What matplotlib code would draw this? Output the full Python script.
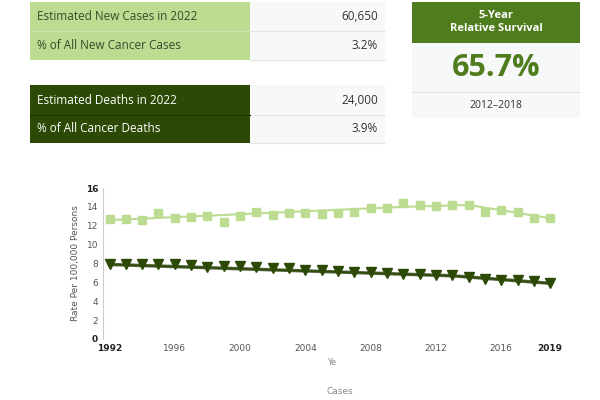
import matplotlib
matplotlib.use("Agg")
import matplotlib.pyplot as plt
from matplotlib.patches import Rectangle

years = list(range(1992, 2020))
new_cases = [12.7,12.7,12.6,13.3,12.8,12.9,13.0,12.4,13.0,13.5,13.1,13.3,13.4,13.2,13.4,13.5,13.9,13.9,14.4,14.2,14.1,14.2,14.2,13.5,13.7,13.5,12.8,12.8]
new_trend_x = [1992, 2010, 2014, 2019]
new_trend_y = [12.6, 14.0, 14.2, 12.8]
deaths = [8.0,8.0,7.9,8.0,7.9,7.8,7.6,7.7,7.7,7.6,7.5,7.5,7.3,7.3,7.2,7.1,7.1,7.0,6.9,6.9,6.8,6.8,6.6,6.4,6.3,6.2,6.1,5.9]
death_trend_x = [1992, 2013, 2019]
death_trend_y = [7.9, 6.7, 5.9]
yticks = [0,2,4,6,8,10,12,14,16]
xticks = [1992,1996,2000,2004,2008,2012,2016,2019]

light = "#bcdc92"; dark = "#2c4a06"; mid = "#4f7d1e"; grey = "#f7f8f8"
W, H = 600, 400
fig = plt.figure(figsize=(6, 4), dpi=100)
ov = fig.add_axes([0, 0, 1, 1]); ov.set_xlim(0, W); ov.set_ylim(H, 0); ov.axis("off")

def row(y0, y1, lab, val, col, tcol):
    ov.add_patch(Rectangle((30, y0), 220, y1-y0, color=col, lw=0))
    ov.add_patch(Rectangle((250, y0), 135, y1-y0, color=grey, lw=0))
    ov.plot([250, 385], [y1, y1], color="#e6e6e6", lw=0.8)
    ym = (y0+y1)/2
    ov.text(37, ym, lab, va="center", fontsize=8.5, color=tcol, family="Open Sans")
    ov.text(378, ym, val, va="center", ha="right", fontsize=8.5, color="#333", family="Open Sans")

row(2, 31, "Estimated New Cases in 2022", "60,650", light, "#3a4a2a")
row(31, 60, "% of All New Cancer Cases", "3.2%", light, "#3a4a2a")
row(85, 115, "Estimated Deaths in 2022", "24,000", dark, "white")
row(115, 143, "% of All Cancer Deaths", "3.9%", dark, "white")
ov.plot([30, 250], [115, 115], color="#1e3504", lw=0.8)
ov.plot([30, 250], [31, 31], color="#cfe6b0", lw=0.8)

ov.add_patch(Rectangle((412, 2), 168, 116, color=grey, lw=0))
ov.add_patch(Rectangle((412, 2), 168, 41, color=mid, lw=0))
ov.text(496, 22, "5-Year\nRelative Survival", ha="center", va="center", color="white", fontsize=8, fontweight="bold", family="Open Sans", linespacing=1.3)
ov.text(496, 68, "65.7%", ha="center", va="center", color=mid, fontsize=22, fontweight="bold", family="Open Sans")
ov.plot([412, 580], [92, 92], color="#e4e4e4", lw=0.8)
ov.text(496, 105, "2012\u20132018", ha="center", va="center", color="#333", fontsize=7.5, family="Open Sans")
ov.text(340, 392, "Cases", ha="center", va="center", color="#888", fontsize=6.5)

ax = fig.add_axes([103/W, 1-339/H, (560-103)/W, (339-188)/H])
ax.set_xlim(1991.6, 2019.6); ax.set_ylim(0, 16)
ax.plot(new_trend_x, new_trend_y, color=light, lw=1.5)
ax.plot(years, new_cases, "s", color=light, ms=5.5)
ax.plot(death_trend_x, death_trend_y, color="#5b6b4a", lw=2.5)
ax.plot(death_trend_x, death_trend_y, color=dark, lw=1.2)
ax.plot(years, deaths, "v", color=dark, ms=7)
ax.set_yticks(yticks); ax.set_xticks(xticks)
ax.tick_params(length=0, labelsize=6.5, colors="#555")
for lbl in ax.get_xticklabels():
    if lbl.get_text() in ("1992", "2019"):
        lbl.set_fontweight("bold"); lbl.set_color("#222")
for lbl in ax.get_yticklabels():
    if lbl.get_text() in ("0", "16"):
        lbl.set_fontweight("bold"); lbl.set_color("#222")
for s in ["top", "right", "bottom"]:
    ax.spines[s].set_visible(False)
ax.spines["left"].set_color("#ccc")
ax.set_ylabel("Rate Per 100,000 Persons", fontsize=6.5, color="#555")
ax.set_xlabel("Ye", fontsize=6, color="#888")
ax.patch.set_alpha(0)
fig.savefig("out.png", dpi=100)
